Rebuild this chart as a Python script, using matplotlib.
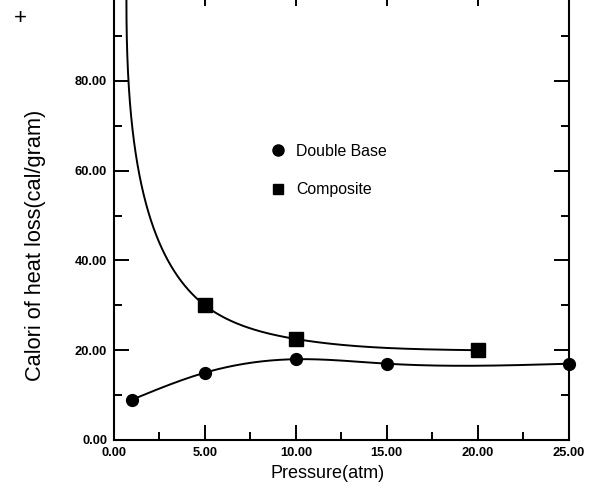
import matplotlib
matplotlib.use("Agg")
import matplotlib.pyplot as plt
from matplotlib.lines import Line2D
from matplotlib.ticker import MultipleLocator, FormatStrFormatter
import numpy as np

plt.rcParams['font.family'] = ['Liberation Sans', 'DejaVu Sans']

# data (first composite point lies above the visible area)
double_p = [1, 5, 10, 15, 25]
double_v = [9.0, 15.0, 18.0, 17.0, 17.0]
comp_p = [1, 5, 10, 20]
comp_v = [140.0, 30.0, 22.5, 20.0]
x_ticks = [0, 5, 10, 15, 20, 25]
y_ticks = [0, 20, 40, 60, 80]


def natural_spline(t, y, tt):
    t = np.asarray(t, float)
    y = np.asarray(y, float)
    n = len(t)
    h = np.diff(t)
    A = np.zeros((n, n))
    b = np.zeros(n)
    A[0, 0] = 1
    A[-1, -1] = 1
    for i in range(1, n - 1):
        A[i, i - 1] = h[i - 1]
        A[i, i] = 2 * (h[i - 1] + h[i])
        A[i, i + 1] = h[i]
        b[i] = 6 * ((y[i + 1] - y[i]) / h[i] - (y[i] - y[i - 1]) / h[i - 1])
    M = np.linalg.solve(A, b)
    out = np.empty_like(tt)
    for k, x in enumerate(tt):
        i = min(max(np.searchsorted(t, x) - 1, 0), n - 2)
        hi = h[i]
        a = t[i + 1] - x
        c = x - t[i]
        out[k] = (M[i] * a ** 3 / (6 * hi) + M[i + 1] * c ** 3 / (6 * hi)
                  + (y[i] / hi - M[i] * hi / 6) * a
                  + (y[i + 1] / hi - M[i + 1] * hi / 6) * c)
    return out


fig = plt.figure(figsize=(5.93, 4.91), dpi=100)
ax = fig.add_axes([0.1922, 0.1039, 0.7668, 0.914])

# double base: smooth curve in x
xs = np.linspace(double_p[0], double_p[-1], 300)
ax.plot(xs, natural_spline(double_p, double_v, xs), color='black', lw=1.4)
ax.plot(double_p, double_v, 'o', color='black', ms=8.5, clip_on=False)

# composite: parametric spline on screen-scaled chord lengths
cx = np.array(comp_p, float) * 18.19
cy = np.array(comp_v, float) * 4.4875
t = np.concatenate([[0], np.cumsum(np.hypot(np.diff(cx), np.diff(cy)) ** 0.8)])
tt = np.linspace(0, t[-1], 800)
ax.plot(natural_spline(t, comp_p, tt), natural_spline(t, comp_v, tt),
        color='black', lw=1.4)
ax.plot(comp_p, comp_v, 's', color='black', ms=9.5)

ax.set_xlim(0, 25)
ax.set_ylim(0, 100)
ax.set_xticks(x_ticks)
ax.set_yticks(y_ticks)
ax.xaxis.set_minor_locator(MultipleLocator(2.5))
ax.yaxis.set_minor_locator(MultipleLocator(10))
ax.xaxis.set_major_formatter(FormatStrFormatter('%.2f'))
ax.yaxis.set_major_formatter(FormatStrFormatter('%.2f'))
ax.tick_params(which='both', direction='in', top=True, right=True, width=1.4)
ax.tick_params(which='major', length=10.5, labelsize=9.3, pad=5)
ax.tick_params(which='minor', length=5.5)
for lab in ax.get_xticklabels() + ax.get_yticklabels():
    lab.set_fontweight('bold')
for sp in ax.spines.values():
    sp.set_linewidth(1.5)

fig.text(328 / 593, 1 - 474 / 491, 'Pressure(atm)', fontsize=13,
         ha='center', va='center')
ax.set_ylabel('Calori of heat loss(cal/gram)', fontsize=15.7)
ax.yaxis.set_label_coords(36 / 593, 0.5, transform=fig.transFigure)
ax.yaxis.label.set_va('center')
fig.text(20 / 593, 1 - 18 / 491, '+', fontsize=16, ha='center', va='center')

handles = [Line2D([], [], ls='none', marker='o', color='black', ms=8),
           Line2D([], [], ls='none', marker='s', color='black', ms=7.5)]
ax.legend(handles, ['Double Base', 'Composite'], frameon=False, fontsize=11.4,
          loc='center left', bbox_to_anchor=(270 / 593, 1 - 170.5 / 491),
          bbox_transform=fig.transFigure, handlelength=1.0, handletextpad=0.64,
          labelspacing=1.5, borderpad=0, borderaxespad=0)

fig.savefig('out.png', dpi=100)
